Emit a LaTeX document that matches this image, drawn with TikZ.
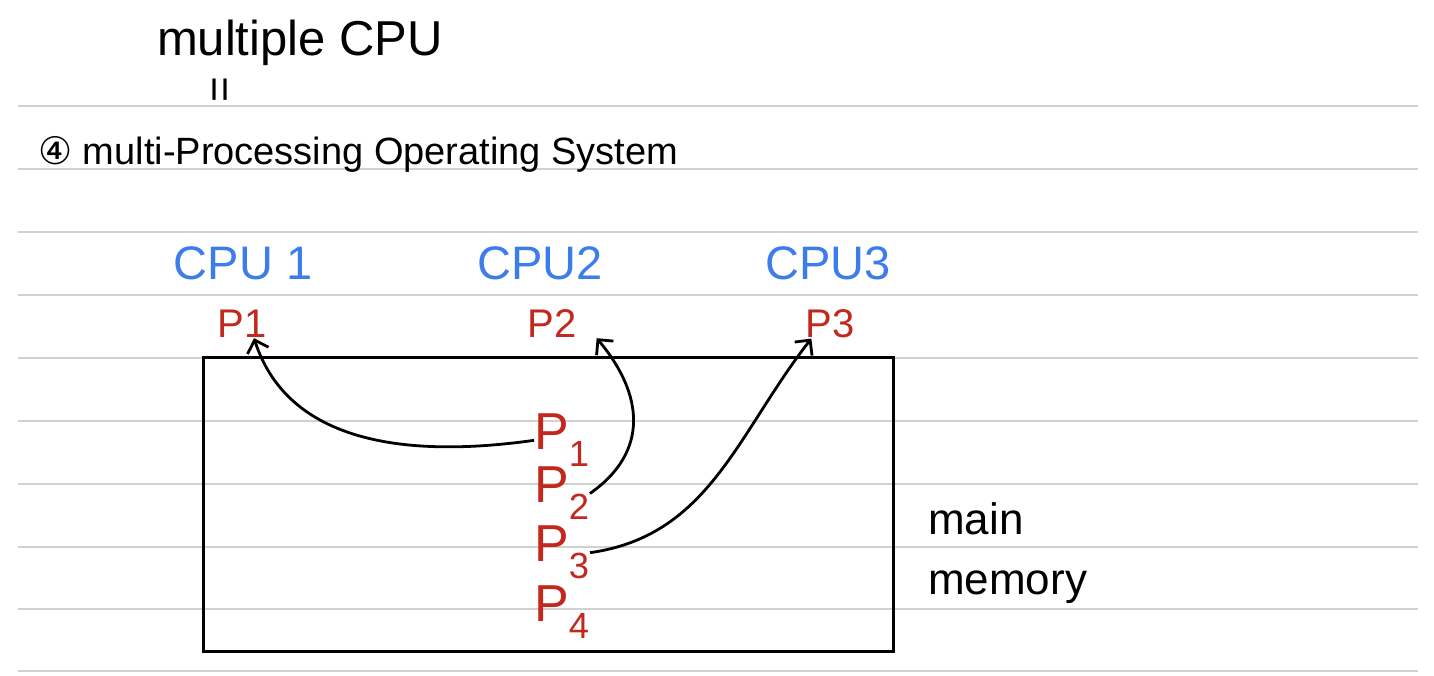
\documentclass[tikz,border=0pt]{standalone}
\usepackage{fontspec}
\setmainfont{Liberation Sans}
\newfontfamily\symfont{DejaVu Sans}
\usetikzlibrary{arrows.meta}
\definecolor{cpublue}{RGB}{60,125,235}
\definecolor{procred}{RGB}{195,40,30}
\tikzset{
  hand/.style={inner sep=0pt, font=\fontsize{#1}{#1}\selectfont},
  cpulabel/.style={hand=47, text=cpublue, anchor=base},
  proc/.style={hand=40, text=procred, anchor=base},
  job/.style={hand=52, text=procred, anchor=base},
  rule/.style={black!18, line width=1.2pt},
  move/.style={-{Straight Barb[length=11pt,width=22pt]}, line width=2.8pt, black},
}

\begin{document}
\begin{tikzpicture}[x=1pt,y=1pt]
\useasboundingbox (0,0) rectangle (1434,676);
\foreach \y in {570,507,444,381,318,255,192,129,67,5}
  \draw[rule] (18,\y) -- (1418,\y);

\node[hand=49, anchor=base] (multi) at (300,620) {multiple CPU};
\node[hand=44, rotate=90] (same) at (224,586) {=};
\node[hand=38, anchor=base west] (title) at (38,511) {{\symfont ④} multi-Processing Operating System};

\node[cpulabel] (cpu1) at (243,396) {CPU 1};
\node[cpulabel] (cpu2) at (540,396) {CPU2};
\node[cpulabel] (cpu3) at (828,396) {CPU3};

\node[proc] (pa) at (242,338) {P1};
\node[proc] (pb) at (552,338) {P2};
\node[proc] (pc) at (830,338) {P3};

\node[draw, line width=2.6pt, minimum width=690pt, minimum height=294pt, anchor=south west] (mem) at (202,23) {};

\node[job] (q1) at (562,226) {P\textsubscript{1}};
\node[job] (q2) at (562,173) {P\textsubscript{2}};
\node[job] (q3) at (562,114) {P\textsubscript{3}};
\node[job] (q4) at (562,54) {P\textsubscript{4}};

\node[hand=44, anchor=base west] (mainlbl) at (928,141) {main};
\node[hand=44, anchor=base west] (memlbl) at (928,81) {memory};

\draw[move] (q1.west) to[out=188,in=-72] ([xshift=12pt]pa.south);
\draw[move] (q2.east) to[out=35,in=-50,looseness=1.2] ([xshift=20pt]pb.south east);
\draw[move] (q3.east) to[out=8,in=-128] ([xshift=6pt]pc.south west);
\end{tikzpicture}
\end{document}
